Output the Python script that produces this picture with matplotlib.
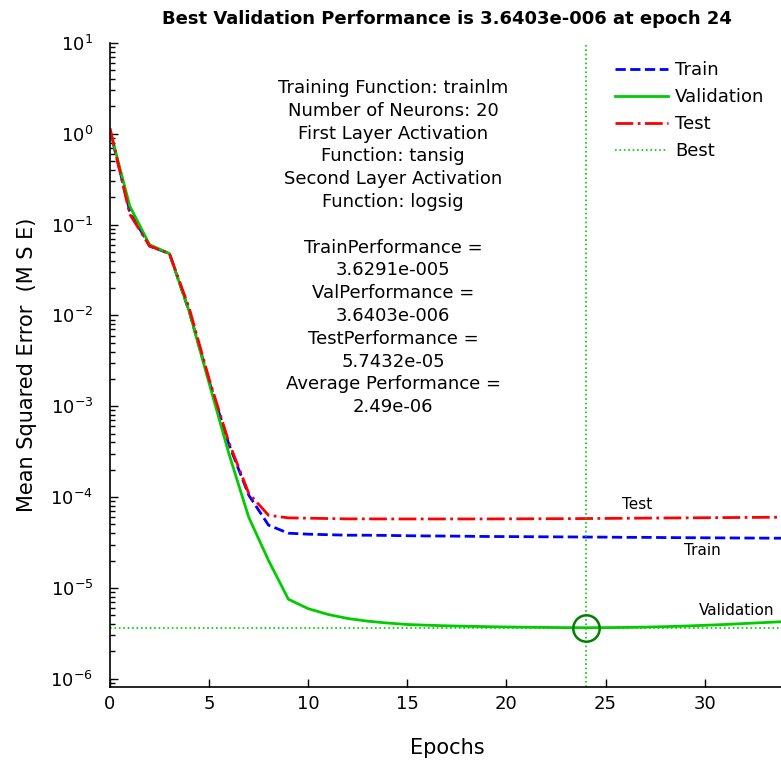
import numpy as np
import matplotlib
matplotlib.use('Agg')
import matplotlib.pyplot as plt
from matplotlib.ticker import FixedLocator, NullFormatter, LogFormatterSciNotation

epochs = np.arange(0, 35)

train = [1.1, 0.14, 0.058, 0.048, 0.011, 0.0019, 3.8e-4, 1.05e-4, 4.9e-5, 4.0e-5,
         3.9e-5, 3.85e-5, 3.8e-5, 3.8e-5, 3.78e-5, 3.75e-5, 3.73e-5, 3.72e-5, 3.7e-5, 3.68e-5,
         3.67e-5, 3.66e-5, 3.65e-5, 3.64e-5, 3.6291e-5, 3.62e-5, 3.6e-5, 3.6e-5, 3.58e-5, 3.57e-5,
         3.56e-5, 3.55e-5, 3.54e-5, 3.53e-5, 3.52e-5]
validation = [1.1, 0.16, 0.06, 0.048, 0.011, 0.0018, 3.0e-4, 6.0e-5, 2.0e-5, 7.5e-6,
              5.9e-6, 5.1e-6, 4.6e-6, 4.3e-6, 4.1e-6, 3.95e-6, 3.88e-6, 3.82e-6, 3.78e-6, 3.74e-6,
              3.71e-6, 3.69e-6, 3.67e-6, 3.65e-6, 3.6403e-6, 3.65e-6, 3.67e-6, 3.7e-6, 3.74e-6, 3.8e-6,
              3.87e-6, 3.95e-6, 4.05e-6, 4.15e-6, 4.25e-6]
test = [1.15, 0.13, 0.058, 0.048, 0.012, 0.002, 4.0e-4, 1.1e-4, 6.3e-5, 5.9e-5,
        5.85e-5, 5.8e-5, 5.75e-5, 5.75e-5, 5.74e-5, 5.74e-5, 5.74e-5, 5.74e-5, 5.74e-5, 5.74e-5,
        5.75e-5, 5.76e-5, 5.77e-5, 5.78e-5, 5.8e-5, 5.82e-5, 5.84e-5, 5.86e-5, 5.88e-5, 5.9e-5,
        5.92e-5, 5.94e-5, 5.96e-5, 5.98e-5, 6.0e-5]
best_epoch = 24
best_perf = 3.6403e-6

info_lines = ["Training Function: trainlm", "Number of Neurons: 20",
              "First Layer Activation", "Function: tansig",
              "Second Layer Activation", "Function: logsig", "",
              "TrainPerformance =", "3.6291e-005",
              "ValPerformance =", "3.6403e-006",
              "TestPerformance =", "5.7432e-05",
              "Average Performance =", "2.49e-06"]

green = (0, 0.8, 0)

fig = plt.figure(figsize=(7.81, 7.67), dpi=100)
ax = fig.add_axes([0.1408, 0.1043, 0.863, 0.8397])

ax.semilogy(epochs, train, color='blue', ls='--', lw=2, label='Train')
ax.semilogy(epochs, validation, color=green, ls='-', lw=2, label='Validation')
ax.semilogy(epochs, test, color='red', ls='-.', lw=2, label='Test')
ax.axvline(best_epoch, color=green, ls=':', lw=1.2, label='Best')
ax.axhline(best_perf, color=green, ls=':', lw=1.2)
ax.plot(best_epoch, best_perf, 'o', mfc='none', mec=(0, 0.5, 0), ms=19, mew=1.8)

ax.set_xlim(0, 34)
ax.set_ylim(8.1e-7, 10)
ax.set_xticks([0, 5, 10, 15, 20, 25, 30])
majors = [10.0 ** k for k in range(-6, 2)]
minors = [m * 10.0 ** k for k in range(-7, 1) for m in range(2, 10)]
minors = [v for v in minors if 8.1e-7 <= v <= 10]
ax.yaxis.set_major_locator(FixedLocator(majors))
ax.yaxis.set_major_formatter(LogFormatterSciNotation())
ax.yaxis.set_minor_locator(FixedLocator(minors))
ax.yaxis.set_minor_formatter(NullFormatter())
ax.tick_params(which='both', direction='in', labelsize=13, colors='black')
ax.tick_params(which='major', length=6, width=1)
ax.tick_params(which='minor', length=3.5, width=1)
ax.tick_params(axis='x', pad=6)
ax.tick_params(axis='y', pad=12)
ax.spines['top'].set_visible(False)
ax.spines['right'].set_visible(False)
ax.spines['left'].set_linewidth(1.2)
ax.spines['bottom'].set_linewidth(1.2)

ax.set_title('Best Validation Performance is 3.6403e-006 at epoch 24',
             fontsize=13, fontweight='bold', pad=14)
ax.set_xlabel('Epochs', fontsize=15, labelpad=18)
ax.set_ylabel('Mean Squared Error  (M S E)', fontsize=15, labelpad=10)

ax.legend(loc='upper right', frameon=False, fontsize=13, handlelength=2.9,
          bbox_to_anchor=(0.995, 0.997), labelspacing=0.5, handletextpad=0.4)

y0 = 88
for i, line in enumerate(info_lines):
    if line:
        fig.text(393 / 781, 1 - (y0 + i * 22.8) / 767, line, ha='center', va='center',
                 fontsize=13)

ax.text(26.6, 8.2e-5, 'Test', fontsize=11, ha='center', va='center')
ax.text(29.9, 2.6e-5, 'Train', fontsize=11, ha='center', va='center')
ax.text(31.6, 5.6e-6, 'Validation', fontsize=11, ha='center', va='center')

fig.savefig('out.png', dpi=100)
